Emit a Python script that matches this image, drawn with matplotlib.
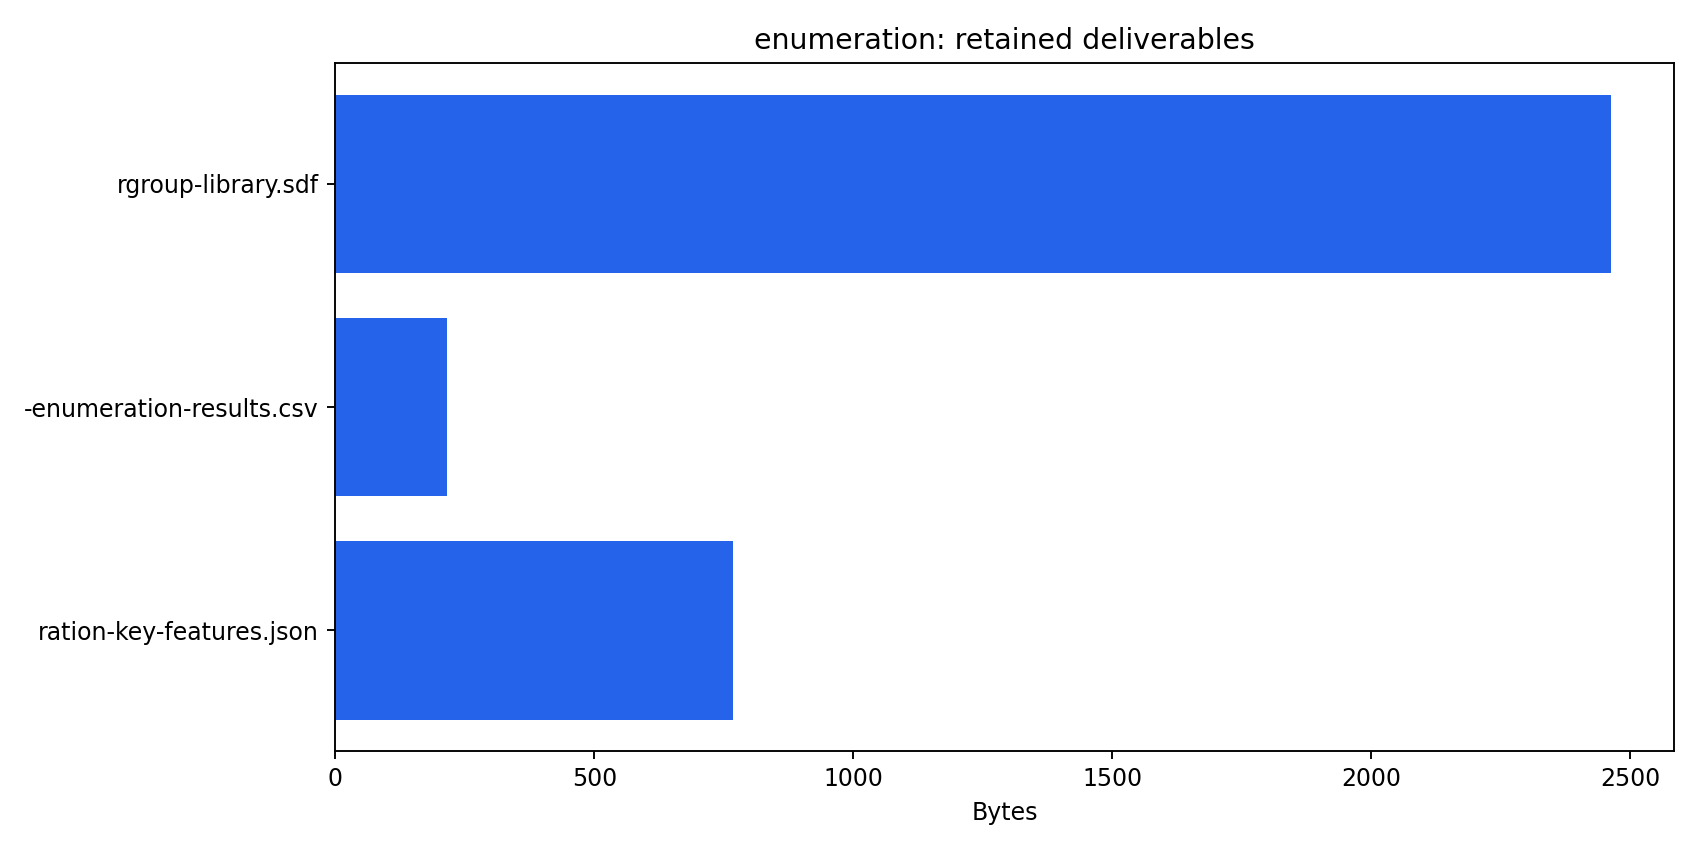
import matplotlib
matplotlib.use("Agg")
import matplotlib.pyplot as plt

labels = ["rgroup-library.sdf", "-enumeration-results.csv", "ration-key-features.json"]
sizes = [2462, 215, 768]

fig, ax = plt.subplots(figsize=(10, 5))
ax.barh(labels, sizes, color="#2563eb")
ax.invert_yaxis()
ax.set_xlabel("Bytes")
ax.set_title("enumeration: retained deliverables")
plt.tight_layout()
plt.savefig("out.png", dpi=170)
